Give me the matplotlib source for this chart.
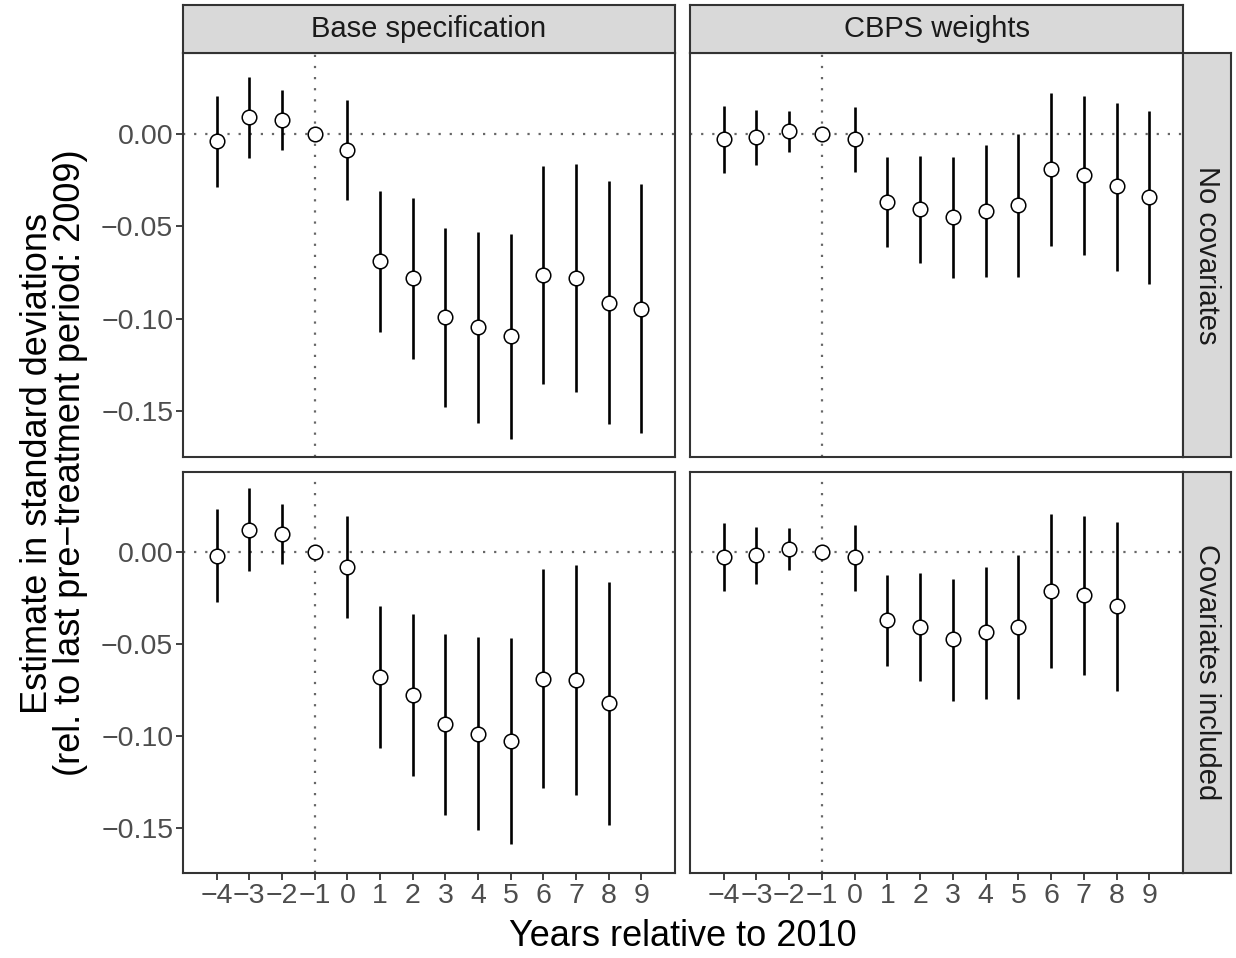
import numpy as np
import matplotlib
matplotlib.use("Agg")
import matplotlib.pyplot as plt

plt.rcParams['font.family'] = ['Liberation Sans', 'DejaVu Sans']

years = [-4, -3, -2, -1, 0, 1, 2, 3, 4, 5, 6, 7, 8, 9]
col_labels = ["Base specification", "CBPS weights"]
row_labels = ["No covariates", "Covariates included"]

# Base specification, no covariates
base_nocov_est = [-0.0041, 0.0088, 0.0072, 0.0, -0.0087, -0.0690, -0.0779, -0.0990,
                  -0.1046, -0.1093, -0.0764, -0.0779, -0.0912, -0.0945]
base_nocov_lo = [-0.0287, -0.0130, -0.0088, 0.0, -0.0359, -0.1071, -0.1215, -0.1477,
                 -0.1561, -0.1648, -0.1352, -0.1396, -0.1569, -0.1619]
base_nocov_hi = [0.0206, 0.0305, 0.0234, 0.0, 0.0182, -0.0312, -0.0348, -0.0508,
                 -0.0532, -0.0539, -0.0177, -0.0162, -0.0256, -0.0274]

# CBPS weights, no covariates
cbps_nocov_est = [-0.0029, -0.0016, 0.0013, 0.0, -0.0029, -0.0368, -0.0407, -0.0451,
                  -0.0415, -0.0384, -0.0191, -0.0222, -0.0285, -0.0341]
cbps_nocov_lo = [-0.0213, -0.0171, -0.0099, 0.0, -0.0207, -0.0613, -0.0696, -0.0779,
                 -0.0772, -0.0772, -0.0606, -0.0653, -0.0739, -0.0813]
cbps_nocov_hi = [0.0150, 0.0130, 0.0121, 0.0, 0.0144, -0.0128, -0.0121, -0.0126,
                 -0.0061, 0.0000, 0.0222, 0.0206, 0.0168, 0.0124]

# Base specification, covariates included (no estimate for year 9)
base_cov_est = [-0.0023, 0.0123, 0.0099, 0.0, -0.0081, -0.0679, -0.0776, -0.0937,
                -0.0989, -0.1029, -0.0690, -0.0695, -0.0823]
base_cov_lo = [-0.0274, -0.0101, -0.0065, 0.0, -0.0357, -0.1065, -0.1217, -0.1430,
               -0.1511, -0.1590, -0.1285, -0.1320, -0.1486]
base_cov_hi = [0.0233, 0.0347, 0.0264, 0.0, 0.0195, -0.0294, -0.0338, -0.0446,
               -0.0464, -0.0467, -0.0092, -0.0069, -0.0161]

# CBPS weights, covariates included (no estimate for year 9)
cbps_cov_est = [-0.0025, -0.0014, 0.0016, 0.0, -0.0029, -0.0370, -0.0408, -0.0475,
                -0.0437, -0.0408, -0.0209, -0.0235, -0.0292]
cbps_cov_lo = [-0.0211, -0.0171, -0.0096, 0.0, -0.0209, -0.0617, -0.0702, -0.0809,
               -0.0798, -0.0798, -0.0628, -0.0670, -0.0753]
cbps_cov_hi = [0.0159, 0.0139, 0.0130, 0.0, 0.0146, -0.0126, -0.0114, -0.0146,
               -0.0079, -0.0018, 0.0208, 0.0199, 0.0162]

panels = {
    (0, 0): (base_nocov_est, base_nocov_lo, base_nocov_hi),
    (0, 1): (cbps_nocov_est, cbps_nocov_lo, cbps_nocov_hi),
    (1, 0): (base_cov_est, base_cov_lo, base_cov_hi),
    (1, 1): (cbps_cov_est, cbps_cov_lo, cbps_cov_hi),
}

W, H = 1236, 958
fig = plt.figure(figsize=(W / 100, H / 100), dpi=100)

def px_axes(x0, y0, x1, y1, **kw):
    return fig.add_axes([x0 / W, 1 - y1 / H, (x1 - x0) / W, (y1 - y0) / H], **kw)

col_x = [(183, 675), (690, 1183)]
row_y = [(53, 457), (472, 873)]
strip_top = (5, 53)
strip_right = (1183, 1231)

frame_col = "#333333"
strip_fill = "#D9D9D9"
ylim = (-0.1746, 0.0436)
xlim = (-5.03, 10.03)
tick_fs = 20.5
strip_fs = 21
title_fs = 26

for r in range(2):
    for c in range(2):
        x0, x1 = col_x[c]
        y0, y1 = row_y[r]
        ax = px_axes(x0, y0, x1, y1)
        est, lo, hi = panels[(r, c)]
        xs = years[:len(est)]
        ax.axhline(0, color="#666666", ls=(0, (1, 4)), lw=1.6, zorder=1)
        ax.axvline(-1, color="#666666", ls=(0, (1, 4)), lw=1.6, zorder=1)
        ax.vlines(xs, lo, hi, color="black", lw=1.9, zorder=2)
        ax.plot(xs, est, ls="none", marker="o", ms=10.5, mfc="white",
                mec="black", mew=1.1, zorder=3)
        ax.set_xlim(*xlim)
        ax.set_ylim(*ylim)
        ax.set_xticks(years)
        ax.set_yticks([0.0, -0.05, -0.10, -0.15])
        for s in ax.spines.values():
            s.set_color(frame_col)
            s.set_linewidth(1.5)
        ax.tick_params(axis="both", length=5, width=1.3, color=frame_col,
                       labelcolor="#4D4D4D", labelsize=tick_fs, pad=2)
        if c == 0:
            ax.set_yticklabels(["0.00", "\u22120.05", "\u22120.10", "\u22120.15"])
        else:
            ax.tick_params(axis="y", left=False, labelleft=False)
        if r == 1:
            ax.set_xticklabels([str(y).replace("-", "\u2212") for y in years])
        else:
            ax.tick_params(axis="x", bottom=False, labelbottom=False)

# column strips
for c in range(2):
    x0, x1 = col_x[c]
    sax = px_axes(x0, strip_top[0], x1, strip_top[1])
    sax.set_xticks([]); sax.set_yticks([])
    sax.set_facecolor(strip_fill)
    for s in sax.spines.values():
        s.set_color(frame_col); s.set_linewidth(1.5)
    sax.text(0.5, 0.5, col_labels[c], ha="center", va="center", fontsize=strip_fs,
             color="#1A1A1A", transform=sax.transAxes)

# row strips
for r in range(2):
    y0, y1 = row_y[r]
    sax = px_axes(strip_right[0], y0, strip_right[1], y1)
    sax.set_xticks([]); sax.set_yticks([])
    sax.set_facecolor(strip_fill)
    for s in sax.spines.values():
        s.set_color(frame_col); s.set_linewidth(1.5)
    sax.text(0.5, 0.5, row_labels[r], ha="center", va="center", fontsize=strip_fs,
             color="#1A1A1A", rotation=-90, transform=sax.transAxes)

fig.text(683 / W, 1 - 937 / H, "Years relative to 2010", ha="center", va="center",
         fontsize=title_fs, color="black")
fig.text(54 / W, 1 - 463 / H,
         "Estimate in standard deviations\n(rel. to last pre\u2212treatment period: 2009)",
         ha="center", va="center", rotation=90, fontsize=title_fs, color="black",
         linespacing=0.95, multialignment="center")

fig.savefig("out.png", dpi=100)
